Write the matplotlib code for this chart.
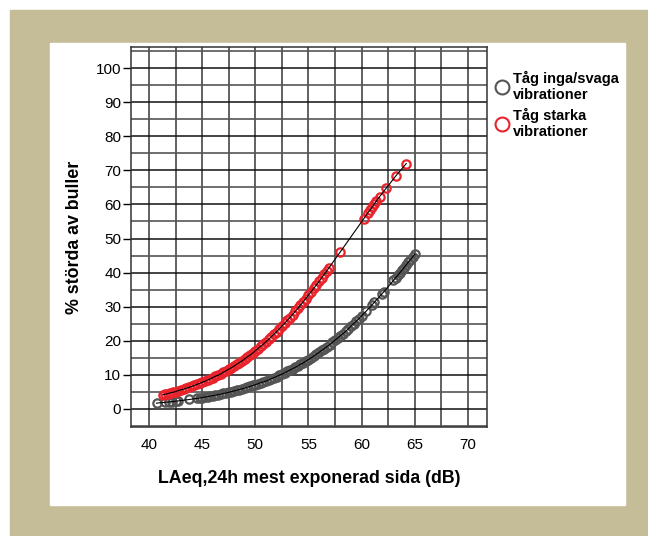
import matplotlib
matplotlib.use("Agg")
import matplotlib.pyplot as plt
from matplotlib.lines import Line2D
from matplotlib.patches import Rectangle
import numpy as np

# predicted % annoyed
weak_x = [40.7, 41.5, 41.9, 42.2, 42.5, 42.7, 43.8, 44.5,
          44.75, 45.0, 45.25, 45.5, 45.75, 46.0, 46.25, 46.5, 46.75, 47.0,
          47.25, 47.5, 47.75, 48.0, 48.25, 48.5, 48.75, 49.0, 49.25, 49.5,
          49.75, 50.0, 50.25, 50.5, 50.75, 51.0, 51.25, 51.5, 51.75, 52.0,
          52.25, 52.5, 52.75, 53.0, 53.25, 53.5, 53.75, 54.0, 54.25, 54.5,
          54.75, 55.0, 55.25, 55.5, 55.75, 56.0, 56.25, 56.5, 56.75, 57.0,
          57.25, 57.5, 57.75, 58.0, 58.25, 58.5, 58.75, 59.0, 59.25, 59.5,
          59.75, 60.0, 60.4, 61.0, 61.2, 61.9, 62.1,
          63.0, 63.2, 63.4, 63.6, 63.8, 64.0, 64.2, 64.4, 64.6, 64.8, 65.0]
weak_y = [1.7, 1.95, 2.07, 2.17, 2.27, 2.34, 2.78, 3.1,
          3.2, 3.34, 3.5, 3.61, 3.75, 3.9, 4.05, 4.2, 4.37, 4.54,
          4.7, 4.89, 5.1, 5.28, 5.5, 5.69, 5.9, 6.13, 6.4, 6.6,
          6.9, 7.1, 7.4, 7.7, 7.9, 8.2, 8.5, 8.9, 9.2, 9.5,
          9.9, 10.2, 10.6, 11.0, 11.4, 11.8, 12.2, 12.6, 13.1, 13.5,
          14.0, 14.5, 15.0, 15.5, 16.1, 16.6, 17.2, 17.7, 18.3, 18.9,
          19.5, 20.2, 20.8, 21.5, 22.1, 22.8, 23.5, 24.3, 25.0, 25.8,
          26.5, 27.3, 28.6, 30.6, 31.3, 33.7, 34.4,
          37.7, 38.5, 39.2, 40.0, 40.7, 41.5, 42.3, 43.1, 43.8, 44.6, 45.4]

strong_x = [41.3, 41.5, 41.75, 42.0, 42.25, 42.5, 42.75, 43.0, 43.25, 43.5, 43.75,
            44.0, 44.25, 44.5, 44.75, 45.0, 45.25, 45.5, 45.75, 46.0, 46.25,
            46.5, 46.75, 47.0, 47.25, 47.5, 47.75, 48.0, 48.25, 48.5, 48.75,
            49.0, 49.25, 49.5, 49.75, 50.0, 50.25, 50.5, 50.75, 51.0, 51.25,
            51.5, 51.75, 52.0, 52.25, 52.5, 52.75, 53.0, 53.25, 53.5, 53.75,
            54.0, 54.25, 54.5, 54.75, 55.0, 55.25, 55.5, 55.75, 56.0, 56.25,
            56.5, 56.7, 56.9, 58.0, 60.2, 60.6, 60.8, 61.0, 61.2, 61.4, 61.7,
            62.3, 63.2, 64.2]
strong_y = [4.2, 4.3, 4.5, 4.7, 4.9, 5.1, 5.4, 5.6, 5.8, 6.1, 6.3,
            6.6, 6.9, 7.2, 7.5, 7.8, 8.1, 8.5, 8.8, 9.2, 9.6,
            9.9, 10.3, 10.8, 11.2, 11.7, 12.1, 12.6, 13.1, 13.6, 14.1,
            14.7, 15.3, 15.8, 16.4, 17.1, 17.7, 18.4, 19.0, 19.7, 20.4,
            21.2, 21.9, 22.7, 23.5, 24.3, 25.1, 26.0, 26.8, 27.7, 28.6,
            29.5, 30.5, 31.4, 32.4, 33.4, 34.4, 35.4, 36.4, 37.4, 38.5,
            39.6, 40.4, 41.3, 46.1, 55.8, 57.6, 58.4, 59.3, 60.2, 61.0, 62.3,
            64.7, 68.3, 72.0]

labels = ["Tåg inga/svaga\nvibrationer", "Tåg starka\nvibrationer"]
colors = ["#555555", "#e8232b"]

plt.rcParams["font.family"] = ["Liberation Sans", "DejaVu Sans"]

fig = plt.figure(figsize=(6.48, 5.36), dpi=100)
W, H = 648, 536
# tan frame and white panel
fig.add_artist(Rectangle((10 / W, 0), 1 - 10 / W, 1 - 10 / H, transform=fig.transFigure,
                         color="#c5bc98", zorder=-5))
fig.add_artist(Rectangle((50 / W, 1 - 505 / H), 575 / W, 462 / H, transform=fig.transFigure,
                         color="white", zorder=-4))

ax = fig.add_axes([131 / W, 1 - 427 / H, 356 / W, 380 / H])

for xs, ys, c in ((weak_x, weak_y, colors[0]), (strong_x, strong_y, colors[1])):
    ax.plot(xs, ys, linestyle="none", marker="o", markersize=6, mfc="none",
            mec=c, mew=1.6, zorder=3)
    ax.plot(xs, ys, color="black", lw=0.8, zorder=4)

ax.set_xlim(38.3, 71.8)
ax.set_ylim(-5.3, 106.2)
ax.set_xticks(np.arange(40, 71, 5))
ax.set_yticks(np.arange(0, 101, 10))
ax.set_xticks(np.arange(40, 71, 2.5), minor=True)
ax.set_yticks(np.arange(-5, 106, 5), minor=True)

ax.grid(axis="x", which="both", color="#555555", lw=1.3)
ax.grid(axis="y", which="major", color="#111111", lw=1.1)
ax.grid(axis="y", which="minor", color="#555555", lw=1.2)
ax.set_axisbelow(True)

ax.tick_params(axis="x", which="both", length=0, pad=8, labelsize=11)
ax.tick_params(axis="y", which="major", length=6, width=1, pad=1, labelsize=11)
ax.tick_params(axis="y", which="minor", length=0)
for s in ax.spines.values():
    s.set_color("#333333")
    s.set_linewidth(1.1)

ax.set_xlabel("LAeq,24h mest exponerad sida (dB)", fontsize=12.8, fontweight="bold", labelpad=13)
ax.set_ylabel("% störda av buller", fontsize=12.8, fontweight="bold", labelpad=9)

handles = [Line2D([], [], linestyle="none", marker="o", markersize=10, mfc="none",
                  mec=c, mew=1.5) for c in colors]
ax.legend(handles, labels, loc="upper left", bbox_to_anchor=(1.0, 0.96), frameon=False,
          handlelength=0.8, handletextpad=0.4, labelspacing=0.4, borderaxespad=0.2,
          prop={"weight": "bold", "size": 10.5})

fig.savefig("out.png", dpi=100)
